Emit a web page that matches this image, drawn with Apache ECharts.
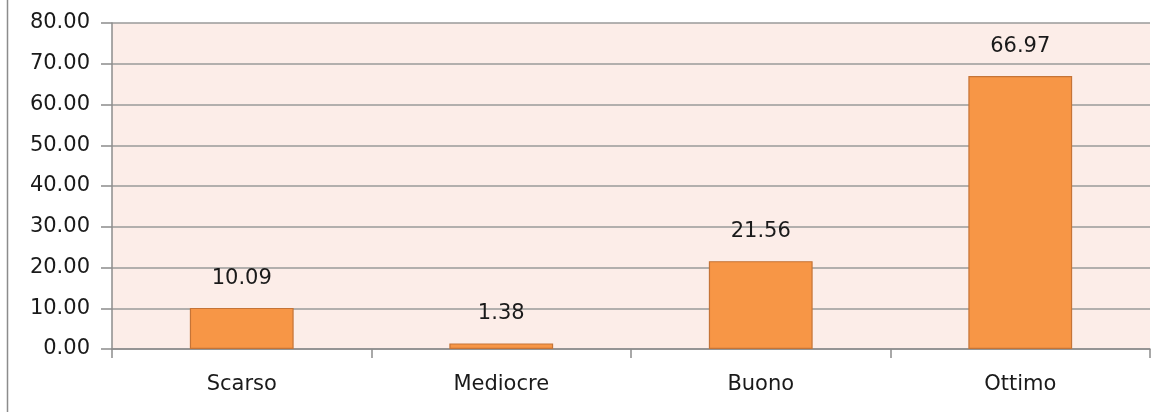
<!DOCTYPE html>
<html>
<head>
<meta charset="utf-8">
<script src="https://cdn.jsdelivr.net/npm/echarts@6/dist/echarts.min.js"></script>
<style>
  html, body { margin: 0; padding: 0; background: #fff; }
  #chart { width: 1166px; height: 412px; }
</style>
</head>
<body>
<div id="chart"></div>
<script>
// categorie e valori (percentuali)
var categories = ['Scarso', 'Mediocre', 'Buono', 'Ottimo'];
var values = [10.09, 1.38, 21.56, 66.97];
var yTicks = [0, 10, 20, 30, 40, 50, 60, 70, 80];

var myChart = echarts.init(document.getElementById('chart'));

var txtFont = 'DejaVu Sans';

var option = {
    backgroundColor: '#fff',
    animation: false,
    grid: {
        left: 112,
        right: 16,
        top: 23,
        bottom: 63,
        show: true,
        backgroundColor: '#FCEDE8',
        borderWidth: 0
    },
    // bordo sinistro del riquadro
    graphic: [{
        type: 'line',
        shape: { x1: 7.5, y1: 0, x2: 7.5, y2: 412 },
        style: { stroke: '#8c8c8c', lineWidth: 1.5 }
    }],
    xAxis: {
        type: 'category',
        data: categories,
        axisLine: { show: true, lineStyle: { color: '#8c8c8c', width: 1.5 } },
        axisTick: { show: true, length: 9, lineStyle: { color: '#8c8c8c', width: 1.5 } },
        axisLabel: {
            margin: 25,
            color: '#1a1a1a',
            fontFamily: txtFont,
            fontSize: 21
        }
    },
    yAxis: {
        type: 'value',
        min: yTicks[0],
        max: yTicks[yTicks.length - 1],
        interval: 10,
        axisLine: { show: true, lineStyle: { color: '#8c8c8c', width: 1.5 } },
        axisTick: { show: true, length: 11, lineStyle: { color: '#8c8c8c', width: 1.5 } },
        splitLine: { show: true, lineStyle: { color: '#9a9a9a', width: 1.5 } },
        axisLabel: {
            margin: 22,
            color: '#1a1a1a',
            fontFamily: txtFont,
            fontSize: 21,
            formatter: function (v) { return v.toFixed(2); }
        }
    },
    series: [{
        type: 'bar',
        data: values,
        barWidth: '40%',
        itemStyle: {
            color: '#F79646',
            borderColor: '#C57437',
            borderWidth: 1.2
        },
        label: {
            show: true,
            position: 'top',
            distance: 19,
            color: '#1a1a1a',
            fontFamily: txtFont,
            fontSize: 21,
            formatter: function (p) { return p.value.toFixed(2); }
        }
    }]
};

myChart.setOption(option);
</script>
</body>
</html>
